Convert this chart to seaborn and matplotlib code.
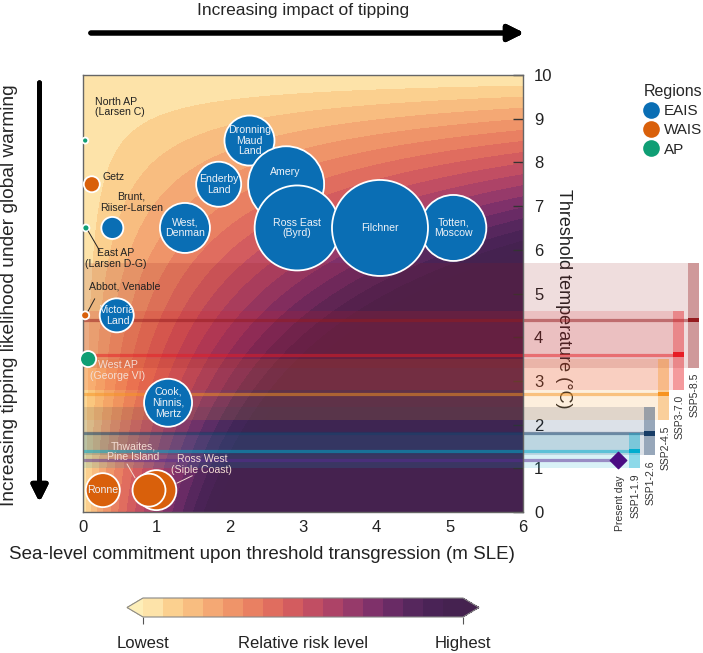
import numpy as np
import pandas as pd
import matplotlib
matplotlib.use("Agg")
import matplotlib.pyplot as plt
from matplotlib.colors import ListedColormap, BoundaryNorm
from matplotlib.patches import Rectangle
from matplotlib.lines import Line2D
import seaborn as sns

sns.set_style("white")
plt.rcParams["font.family"] = ["Liberation Sans", "DejaVu Sans"]

# ice-shelf basins: sea-level commitment (m SLE) vs threshold temperature (degC)
basin_names = ["North AP\n(Larsen C)", "Getz", "Brunt,\nRiiser-Larsen", "East AP\n(Larsen D-G)",
               "West,\nDenman", "Enderby\nLand", "Dronning\nMaud\nLand", "Amery", "Ross East\n(Byrd)",
               "Totten,\nMoscow", "Filchner", "Victoria\nLand", "Abbot, Venable", "West AP\n(George VI)",
               "Cook,\nNinnis,\nMertz", "Ronne", "Ross West\n(Siple Coast)", "Thwaites,\nPine Island"]
basin_region = ["AP", "WAIS", "EAIS", "AP", "EAIS", "EAIS", "EAIS", "EAIS", "EAIS",
                "EAIS", "EAIS", "EAIS", "WAIS", "AP", "EAIS", "WAIS", "WAIS", "WAIS"]
basin_sle = [0.03, 0.12, 0.40, 0.04, 1.39, 1.85, 2.27, 2.77, 2.92,
             5.05, 4.05, 0.46, 0.03, 0.07, 1.16, 0.27, 1.00, 0.90]
basin_threshold = [8.5, 7.5, 6.5, 6.5, 6.5, 7.5, 8.5, 7.5, 6.5,
                   6.5, 6.5, 4.5, 4.5, 3.5, 2.5, 0.5, 0.5, 0.5]
basin_bubble = [19, 133, 251, 25, 1296, 1050, 1296, 2994, 3745,
                2258, 4778, 599, 33, 133, 1194, 599, 829, 564]

regions = ["EAIS", "WAIS", "AP"]
region_colors = ["#0a6eb4", "#d9600b", "#0f9e74"]

# IPCC AR6 warming by 2081-2100
scenario_names = ["SSP1-1.9", "SSP1-2.6", "SSP2-4.5", "SSP3-7.0", "SSP5-8.5"]
scenario_best = [1.4, 1.8, 2.7, 3.6, 4.4]
scenario_low = [1.0, 1.3, 2.1, 2.8, 3.3]
scenario_high = [1.8, 2.4, 3.5, 4.6, 5.7]
scenario_colors = ["#00adcf", "#173c66", "#f79420", "#e71d25", "#951b1e"]
present_day = 1.2

df = pd.DataFrame({"name": basin_names, "region": basin_region, "sle": basin_sle,
                   "threshold": basin_threshold, "bubble": basin_bubble})

# conceptual risk surface for the background
risk_colors = ["#fde3a9", "#fbd08f", "#f8bd80", "#f4a874", "#ef9469", "#e98062", "#e06d5f", "#d35c5f",
               "#c14e63", "#ad4367", "#963a6a", "#7f316a", "#692b65", "#56275d", "#4a2356", "#452250"]
cmap = ListedColormap(risk_colors)
cmap.set_under("#fdeeb8")
cmap.set_over("#45224f")
levels = np.linspace(0, 1, 17)
norm = BoundaryNorm(levels, cmap.N, extend="neither")

gx, gy = np.meshgrid(np.linspace(0, 6, 500), np.linspace(0, 10, 500))
risk = (gx / 1.8) ** 0.75 * np.clip(1 - gy / 10, 0, None) ** 1.0

fig = plt.figure(figsize=(7.03, 6.53), dpi=100)
ax = fig.add_axes([83 / 703, 1 - 512 / 653, 440 / 703, 437 / 653])

cf = ax.contourf(gx, gy, risk, levels=levels, cmap=cmap, norm=norm, extend="both", zorder=0)

# scenario bands, medians and bars
bar_w = 0.15
for i, (nm, lo, hi, best, col) in enumerate(zip(scenario_names, scenario_low, scenario_high,
                                                  scenario_best, scenario_colors)):
    xc = 7.52 + 0.2 * i
    xr = xc + bar_w / 2
    ax.fill_between([0, xr], lo, hi, color=col, alpha=0.15, lw=0, clip_on=False, zorder=1)
    ax.plot([0, xc - bar_w / 2], [best, best], color=col, lw=2.3, alpha=0.5,
            solid_capstyle="butt", clip_on=False, zorder=1.2)
    ax.add_patch(Rectangle((xc - bar_w / 2, lo), bar_w, hi - lo, color=col, alpha=0.35,
                           lw=0, clip_on=False, zorder=1.3))
    ax.add_patch(Rectangle((xc - bar_w / 2, best - 0.05), bar_w, 0.1, color=col,
                           lw=0, clip_on=False, zorder=1.4))
    ax.text(xc + 0.02, lo - 0.12, nm, rotation=90, ha="center", va="top", fontsize=7.5,
            color="#333333", clip_on=False)

ax.plot([0, 7.3], [present_day, present_day], color="#5b2a92", lw=2.3, alpha=0.5,
        solid_capstyle="butt", clip_on=False, zorder=1.2)
ax.scatter([7.3], [present_day], marker="D", s=70, color="#4a0c83", clip_on=False, zorder=3)
ax.text(7.32, present_day - 0.37, "Present day", rotation=90, ha="center", va="top",
        fontsize=7.5, color="#333333", clip_on=False)

sizes = (min(basin_bubble), max(basin_bubble))
sns.scatterplot(data=df, x="sle", y="threshold", hue="region", hue_order=regions,
                palette=region_colors, size="bubble", sizes=sizes, size_norm=sizes,
                edgecolor="white", linewidth=1.3, legend=False, ax=ax, zorder=3, clip_on=False)

# labels inside bubbles
inside = {"West,\nDenman": (1.39, 6.5), "Enderby\nLand": (1.85, 7.5), "Dronning\nMaud\nLand": (2.27, 8.5),
          "Amery": (2.76, 7.78), "Ross East\n(Byrd)": (2.92, 6.5), "Totten,\nMoscow": (5.05, 6.5),
          "Filchner": (4.05, 6.5), "Victoria\nLand": (0.47, 4.5), "Cook,\nNinnis,\nMertz": (1.16, 2.5),
          "Ronne": (0.27, 0.5)}
for nm, (tx, ty) in inside.items():
    ax.text(tx, ty, nm, ha="center", va="center", fontsize=7.6, color="#eef2f7",
            linespacing=1.1, zorder=4)

# labels outside bubbles
outside = [("North AP\n(Larsen C)", 0.16, 9.27, "left", "#222222"),
           ("Getz", 0.26, 7.67, "left", "#222222"),
           ("Brunt,\nRiiser-Larsen", 0.66, 7.09, "center", "#222222"),
           ("East AP\n(Larsen D-G)", 0.45, 5.8, "center", "#222222"),
           ("Abbot, Venable", 0.57, 5.15, "center", "#222222"),
           ("West AP\n(George VI)", 0.47, 3.23, "center", "#f3dcd3"),
           ("Thwaites,\nPine Island", 0.68, 1.38, "center", "#f3dcd3"),
           ("Ross West\n(Siple Coast)", 1.62, 1.08, "center", "#f3dcd3")]
for nm, tx, ty, ha, col in outside:
    ax.text(tx, ty, nm, ha=ha, va="center", fontsize=7.6, color=col, linespacing=1.1, zorder=4)

leaders = [((0.07, 6.43), (0.23, 5.97), "#222222"),
           ((0.07, 4.6), (0.16, 4.88), "#222222"),
           ((0.71, 0.78), (0.6, 1.1), "#f3dcd3"),
           ((1.28, 0.66), (1.49, 0.83), "#f3dcd3")]
for p0, p1, col in leaders:
    ax.plot([p0[0], p1[0]], [p0[1], p1[1]], color=col, lw=0.7, zorder=4, clip_on=False)

ax.set_xlim(0, 6)
ax.set_ylim(0, 10)
ax.set_xticks(range(7))
ax.set_yticks(range(11))
ax.yaxis.tick_right()
ax.yaxis.set_label_position("right")
ax.tick_params(axis="both", direction="in", length=7, width=1, color="#333333",
               labelsize=12, pad=6, labelcolor="#222222")
ax.tick_params(axis="y", pad=8)
for sp in ax.spines.values():
    sp.set_color("#666666")
    sp.set_linewidth(1)
    sp.set_visible(True)

ax.set_xlabel("Sea-level commitment upon threshold transgression (m SLE)", fontsize=13.5,
              color="#222222", va="center")
ax.xaxis.set_label_coords(0.407, -0.098)
ax.set_ylabel("Threshold temperature (°C)", fontsize=13, rotation=270, va="center", color="#222222")
ax.yaxis.set_label_coords(1.091, 0.487)

# direction arrows
fig.add_artist(plt.annotate("", xy=(527 / 703, 1 - 33 / 653), xytext=(88 / 703, 1 - 33 / 653),
                            xycoords="figure fraction", textcoords="figure fraction",
                            arrowprops=dict(arrowstyle="-|>", lw=3.6, color="black", mutation_scale=24)))
fig.text(303 / 703, 1 - 11 / 653, "Increasing impact of tipping", ha="center", va="center",
         fontsize=12.5, family=["Liberation Sans Narrow", "Liberation Sans", "DejaVu Sans"])
fig.add_artist(plt.annotate("", xy=(39.5 / 703, 1 - 505 / 653), xytext=(39.5 / 703, 1 - 80 / 653),
                            xycoords="figure fraction", textcoords="figure fraction",
                            arrowprops=dict(arrowstyle="-|>", lw=3.6, color="black", mutation_scale=24)))
fig.text(10 / 703, 1 - 295 / 653, "Increasing tipping likelihood under global warming",
         rotation=90, ha="center", va="center", fontsize=13.8)

# legend
handles = [Line2D([], [], marker="o", ls="", markersize=12, markerfacecolor=c, markeredgecolor="none")
           for c in region_colors]
leg = fig.legend(handles, regions, title="Regions", loc="upper left",
                 bbox_to_anchor=(636 / 703, 1 - 76 / 653), frameon=False, fontsize=11,
                 title_fontsize=11.5, handletextpad=0.3, labelspacing=0.35, borderpad=0,
                 handlelength=1.0, alignment="left")

# colorbar
cax = fig.add_axes([127 / 703, 1 - 617 / 653, 352 / 703, 19 / 653])
cb = fig.colorbar(cf, cax=cax, orientation="horizontal", extend="both", ticks=[0, 1])
cb.minorticks_off()
cb.ax.set_xticklabels(["Lowest", "Highest"])
cb.ax.tick_params(labelsize=12, length=5, pad=9, color="#555555", labelcolor="#222222")
cb.outline.set_edgecolor("#888888")
fig.text(303 / 703, 1 - 643 / 653, "Relative risk level", ha="center", va="center",
         fontsize=12, color="#222222")

fig.savefig("out.png", dpi=100, facecolor="white")
